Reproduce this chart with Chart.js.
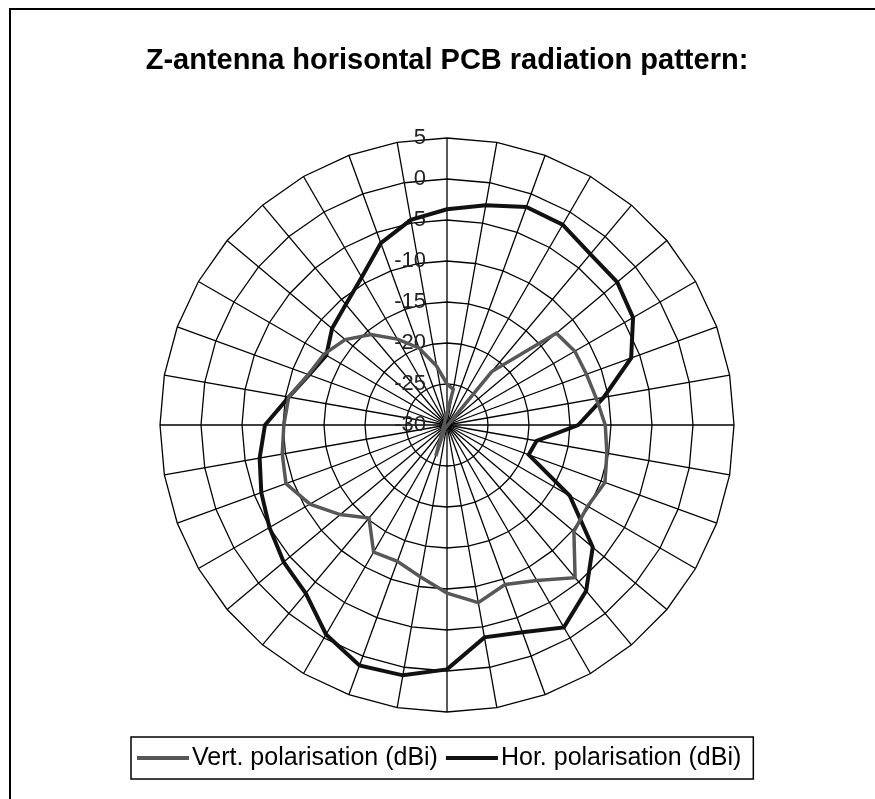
<!DOCTYPE html>
<html>
<head>
<meta charset="utf-8">
<title>Z-antenna radiation pattern</title>
<script src="https://cdn.jsdelivr.net/npm/chart.js@4/dist/chart.umd.min.js"></script>
<style>
  html, body { margin: 0; padding: 0; background: #fff; }
  #wrap { width: 875px; height: 799px; }
</style>
</head>
<body>
<div id="wrap"><canvas id="pattern"></canvas></div>
<script>
// angle of each measurement, clockwise from the top (degrees)
var angles = ['0', '10', '20', '30', '40', '50', '60', '70', '80', '90', '100', '110',
              '120', '130', '140', '150', '160', '170', '180', '190', '200', '210', '220', '230',
              '240', '250', '260', '270', '280', '290', '300', '310', '320', '330', '340', '350'];

// gain in dBi
var vertPol = [-25, -25.6, -34, -30.5, -21.5, -12.6, -12.0, -11.9, -11.5, -10.7, -10.2, -9.5,
               -10.2, -9.8, -5.7, -8.1, -9.3, -8.0, -9.5, -11.2, -12.3, -12.1, -15.2, -13.0,
               -10.7, -9.1, -9.6, -10.1, -10.4, -12.0, -12.7, -13.8, -15.6, -17.9, -20.0, -22.7];

var horPol = [-3.7, -2.8, -1.7, -1.8, -2.8, -2.9, -3.8, -6.1, -10.6, -14.0, -18.9, -19.4,
              -12.7, -6.8, -3.6, -1.5, -3.1, -3.7, -0.2, 1.0, 1.2, -0.5, -3.2, -4.0,
              -5.0, -5.9, -6.8, -7.8, -10.4, -12.1, -13.0, -11.7, -10.8, -9.2, -6.4, -4.6];

var seriesNames = ['Vert. polarisation (dBi)', 'Hor. polarisation (dBi)'];
var titleText = 'Z-antenna horisontal PCB radiation pattern:';

var FONT = "'Liberation Sans', Arial, sans-serif";

// tick labels sit left of the vertical axis, like Excel does it
var tickLabels = {
    id: 'tickLabels',
    beforeDatasetsDraw: function(chart) {
        var r = chart.scales.r;
        var ctx = chart.ctx;
        ctx.save();
        ctx.font = '22px ' + FONT;
        ctx.fillStyle = '#222';
        ctx.textAlign = 'right';
        ctx.textBaseline = 'middle';
        r.ticks.forEach(function(t) {
            var d = r.getDistanceFromCenterForValue(t.value);
            ctx.fillText(t.label, r.xCenter - 21, r.yCenter - d);
        });
        ctx.restore();
    }
};

// outer frame plus boxed legend at the bottom
var frameLegend = {
    id: 'frameLegend',
    afterDraw: function(chart) {
        var ctx = chart.ctx;
        ctx.save();
        ctx.strokeStyle = '#000';
        ctx.lineWidth = 2;
        ctx.strokeRect(10, 9, 900, 900);

        ctx.font = '25px ' + FONT;
        ctx.textBaseline = 'middle';
        ctx.textAlign = 'left';
        var x = 137, y = 758;
        chart.data.datasets.forEach(function(ds, i) {
            ctx.strokeStyle = ds.borderColor;
            ctx.lineWidth = 4;
            ctx.beginPath();
            ctx.moveTo(x, y);
            ctx.lineTo(x + 52, y);
            ctx.stroke();
            ctx.fillStyle = '#000';
            ctx.fillText(ds.label, x + 55, y);
            x += 55 + ctx.measureText(ds.label).width + 8;
        });
        ctx.strokeStyle = '#000';
        ctx.lineWidth = 1.5;
        ctx.strokeRect(131, 737, x + 4 - 131, 42);
        ctx.restore();
    }
};

document.addEventListener('DOMContentLoaded', function() {
    var ctx = document.getElementById('pattern').getContext('2d');

    new Chart(ctx, {
        type: 'radar',
        data: {
            labels: angles,
            datasets: [{
                label: seriesNames[0],
                data: vertPol,
                borderColor: '#575757',
                borderWidth: 3.5,
                fill: false
            }, {
                label: seriesNames[1],
                data: horPol,
                borderColor: '#111',
                borderWidth: 4,
                fill: false
            }]
        },
        options: {
            responsive: true,
            maintainAspectRatio: false,
            devicePixelRatio: 1,
            animation: false,
            layout: { padding: { left: 19, right: 0, top: 0, bottom: 87 } },
            elements: {
                line: { tension: 0 },
                point: { radius: 0, hoverRadius: 0 }
            },
            plugins: {
                legend: { display: false },
                tooltip: { enabled: false },
                title: {
                    display: true,
                    text: titleText,
                    color: '#000',
                    font: { family: FONT, size: 29, weight: 'bold' },
                    padding: { top: 43.6, bottom: 59.6 }
                }
            },
            scales: {
                r: {
                    min: -30,
                    max: 5,
                    ticks: { stepSize: 5, display: false },
                    pointLabels: { display: false },
                    grid: { color: '#000', lineWidth: 1.3 },
                    angleLines: { color: '#000', lineWidth: 1.3 }
                }
            }
        },
        plugins: [tickLabels, frameLegend]
    });
});
</script>
</body>
</html>
